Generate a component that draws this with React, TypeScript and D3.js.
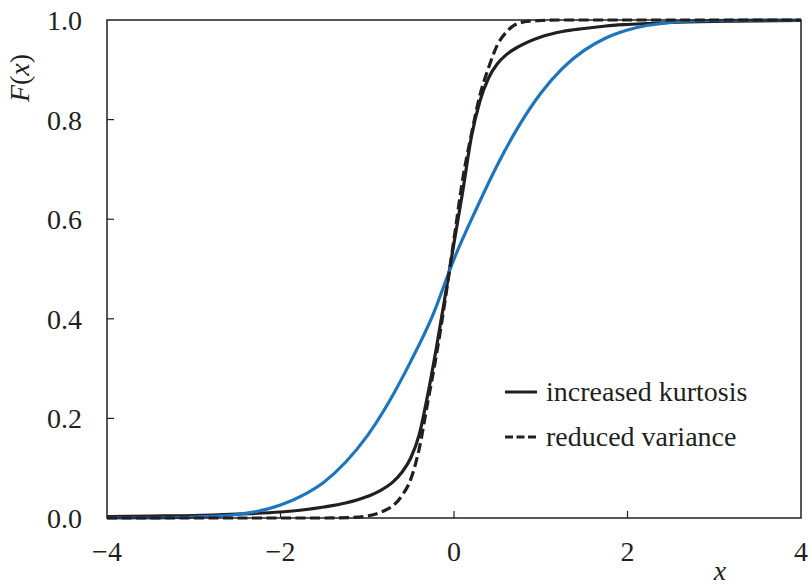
import React from "react";
import * as d3 from "d3";

// Reference distribution (blue): standard normal CDF
const normalX = [-4, -3.5, -3, -2.5, -2, -1.75, -1.5, -1.25, -1, -0.75, -0.5, -0.25, 0, 0.25, 0.5, 0.75, 1, 1.25, 1.5, 1.75, 2, 2.5, 3, 3.5, 4];
const normalF = [0, 0, 0.002, 0.007, 0.026, 0.045, 0.072, 0.112, 0.165, 0.233, 0.314, 0.405, 0.52, 0.618, 0.709, 0.788, 0.853, 0.903, 0.939, 0.964, 0.98, 0.995, 0.999, 1, 1];

// Heavier-tailed distribution (solid black)
const kurtX = [-4, -3.5, -3, -2.5, -2, -1.75, -1.5, -1.25, -1, -0.85, -0.7, -0.6, -0.5, -0.4, -0.3, -0.2, -0.1, 0, 0.1, 0.2, 0.3, 0.4, 0.5, 0.6, 0.75, 1, 1.25, 1.5, 1.75, 2, 2.5, 3, 3.5, 4];
const kurtF = [0.003, 0.004, 0.005, 0.008, 0.012, 0.016, 0.022, 0.03, 0.043, 0.055, 0.073, 0.092, 0.12, 0.168, 0.25, 0.345, 0.448, 0.552, 0.655, 0.765, 0.838, 0.884, 0.912, 0.93, 0.947, 0.966, 0.977, 0.983, 0.988, 0.991, 0.995, 0.997, 0.998, 0.999];

// Narrower distribution (dashed black)
const narrowX = [-4, -1.5, -1.2, -1.0, -0.9, -0.8, -0.7, -0.6, -0.5, -0.4, -0.3, -0.2, -0.1, 0, 0.1, 0.2, 0.3, 0.4, 0.5, 0.6, 0.7, 0.8, 0.9, 1.0, 1.2, 4];
const narrowF = [0, 0, 0.001, 0.004, 0.008, 0.015, 0.025, 0.045, 0.077, 0.14, 0.235, 0.33, 0.44, 0.56, 0.68, 0.77, 0.85, 0.905, 0.95, 0.975, 0.99, 0.996, 0.998, 0.999, 1, 1];

const xTicks = [-4, -2, 0, 2, 4];
const yTicks = [0, 0.2, 0.4, 0.6, 0.8, 1.0];
const legendLabels = ["increased kurtosis", "reduced variance"];

const W = 809;
const H = 588;
const left = 107;
const right = 801;
const top = 20;
const bottom = 518;

const ink = "#231f20";
const blue = "#1d75bf";
const serif: React.CSSProperties = {
  fontFamily: '"Liberation Serif"',
  fontSize: "28px",
};
const serifItalic: React.CSSProperties = { ...serif, fontStyle: "italic" };

export default function App() {
  const x = d3.scaleLinear().domain([-4, 4]).range([left, right]);
  const y = d3.scaleLinear().domain([0, 1]).range([bottom, top]);

  const line = d3
    .line<[number, number]>()
    .x((d) => x(d[0]))
    .y((d) => y(d[1]))
    .curve(d3.curveMonotoneX);

  const zip = (xs: number[], ys: number[]) => xs.map((v, i) => [v, ys[i]] as [number, number]);

  const fmtX = (v: number) => (v < 0 ? "\u2212" + Math.abs(v) : String(v));

  return (
    <svg width={W} height={H} style={{ position: "absolute", left: 0, top: 0, background: "#fff" }}>
      <defs>
        <clipPath id="plot">
          <rect x={left} y={top - 3} width={right - left} height={bottom - top + 6} />
        </clipPath>
      </defs>

      <g clipPath="url(#plot)" fill="none" strokeLinejoin="round">
        <path d={line(zip(kurtX, kurtF)) || ""} stroke={ink} strokeWidth={3.2} />
        <path d={line(zip(normalX, normalF)) || ""} stroke={blue} strokeWidth={3.2} />
        <path d={line(zip(narrowX, narrowF)) || ""} stroke={ink} strokeWidth={3.2} strokeDasharray="10,4.5" />
      </g>

      {/* frame */}
      <rect x={left} y={top} width={right - left} height={bottom - top} fill="none" stroke={ink} strokeWidth={1.5} />

      {/* x ticks */}
      {xTicks.map((t) => (
        <g key={"x" + t}>
          {t > -4 && t < 4 && <line x1={x(t)} x2={x(t)} y1={bottom} y2={bottom - 7} stroke={ink} strokeWidth={1.2} />}
          <text x={x(t)} y={561} textAnchor="middle" style={serif} fill={ink}>
            {fmtX(t)}
          </text>
        </g>
      ))}

      {/* y ticks */}
      {yTicks.map((t) => (
        <g key={"y" + t}>
          {t > 0 && t < 1 && <line x1={left} x2={left + 7} y1={y(t)} y2={y(t)} stroke={ink} strokeWidth={1.2} />}
          <text x={82} y={y(t) + 10} textAnchor="end" style={serif} fill={ink}>
            {t.toFixed(1)}
          </text>
        </g>
      ))}

      {/* axis titles */}
      <text x={720} y={580} textAnchor="middle" style={serifItalic} fill={ink}>
        x
      </text>
      <text transform="translate(29,78) rotate(-90)" textAnchor="middle" style={serif} fill={ink}>
        <tspan style={serifItalic}>F</tspan>
        <tspan style={serif}>(</tspan>
        <tspan style={serifItalic}>x</tspan>
        <tspan style={serif}>)</tspan>
      </text>

      {/* legend */}
      <line x1={505} x2={537} y1={392} y2={392} stroke={ink} strokeWidth={3} />
      <text x={546} y={401} style={serif} fill={ink}>
        {legendLabels[0]}
      </text>
      <line x1={505} x2={537} y1={437} y2={437} stroke={ink} strokeWidth={3} strokeDasharray="8,3.5" />
      <text x={546} y={446} style={serif} fill={ink}>
        {legendLabels[1]}
      </text>
    </svg>
  );
}
